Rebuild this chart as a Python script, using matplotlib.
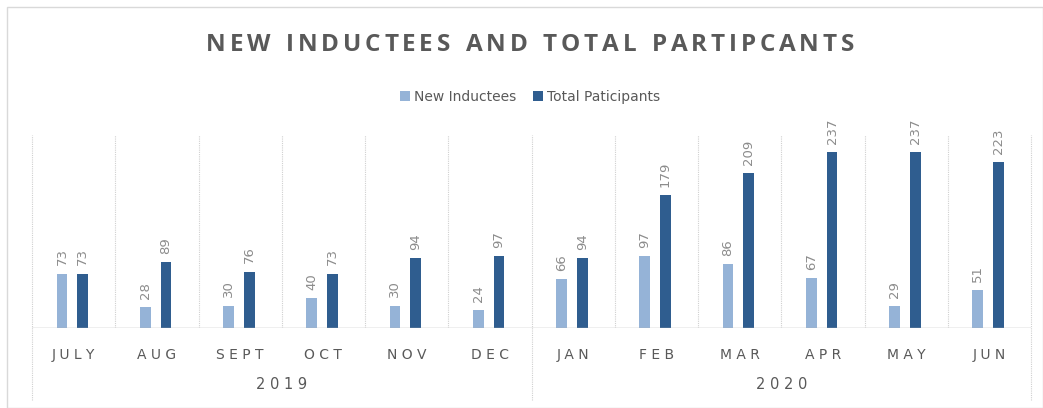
import matplotlib.pyplot as plt
from matplotlib.patches import Rectangle
import matplotlib.transforms as mtransforms

months = ['JULY', 'AUG', 'SEPT', 'OCT', 'NOV', 'DEC',
          'JAN', 'FEB', 'MAR', 'APR', 'MAY', 'JUN']
years = ['2019', '2020']
new_inductees = [73, 28, 30, 40, 30, 24, 66, 97, 86, 67, 29, 51]
total_participants = [73, 89, 76, 73, 94, 97, 94, 179, 209, 237, 237, 223]

light = '#95b3d7'
dark = '#2f5d8f'
grey_txt = '#8c8c8c'
grid_c = '#d0d0d0'

W, H = 1043, 408


def spaced(s, sep='\u2009'):
    return sep.join(s)


def tracked_text(fig, s, xc, yc, track, space_w, **kw):
    # draw text char by char with extra letter spacing (px), centred at xc, yc (px)
    r = fig.canvas.get_renderer()
    widths = []
    for ch in s:
        if ch == ' ':
            widths.append(space_w)
            continue
        t = fig.text(0, 0, ch, **kw)
        widths.append(t.get_window_extent(r).width)
        t.remove()
    total = sum(widths) + track * (len(s) - 1)
    x0 = xc - total / 2
    for ch, wpx in zip(s, widths):
        if ch != ' ':
            fig.text(x0 / W, 1 - yc / H, ch, ha='left', va='center', **kw)
        x0 += wpx + track


fig = plt.figure(figsize=(W / 100, H / 100), dpi=100)
fig.patches.append(Rectangle((7 / W, 0), 1 - 7 / W, 1 - 7 / H,
                             transform=fig.transFigure, fill=False,
                             edgecolor='#d9d9d9', lw=1))

ax = fig.add_axes([32 / W, 1 - 328 / H, (1031 - 32) / W, 193 / H])
n = len(months)
x = list(range(n))
w = 0.13
ax.bar([i - 0.14 for i in x], new_inductees, w, color=light, label='New Inductees')
ax.bar([i + 0.11 for i in x], total_participants, w, color=dark, label='Total Paticipants')

ax.set_xlim(-0.5, n - 0.5)
ax.set_ylim(0, 260)
for s in ax.spines.values():
    s.set_visible(False)
ax.set_xticks([])
ax.set_yticks([])

# baseline
ax.axhline(0, color='#b0b0b0', lw=1)

# category separators
for i in range(1, n):
    if i == 6:
        continue
    ax.axvline(i - 0.5, ymin=0, ymax=1, color=grid_c, lw=0.8, ls=(0, (1, 1)))

# year group lines, extending below the axis
trans = mtransforms.blended_transform_factory(ax.transData, ax.transAxes)
for xv in [-0.5, 5.5, n - 0.5]:
    ax.plot([xv, xv], [-0.373, 1], transform=trans, color=grid_c, lw=0.8,
            ls=(0, (1, 1)), clip_on=False)

# data labels
for i in x:
    ax.annotate(str(new_inductees[i]), (i - 0.14, new_inductees[i]),
                xytext=(0, 6), textcoords='offset points', rotation=90,
                ha='center', va='bottom', fontsize=9.5, color=grey_txt)
    ax.annotate(str(total_participants[i]), (i + 0.11, total_participants[i]),
                xytext=(0, 6), textcoords='offset points', rotation=90,
                ha='center', va='bottom', fontsize=9.5, color=grey_txt)

# month labels
for i, m in enumerate(months):
    ax.text(i, -0.14, spaced(m, ' '), transform=trans, ha='center', va='center',
            fontsize=10, color='#595959')

# year labels
for k, yr in enumerate(years):
    ax.text(k * 6 + 2.5, -0.295, spaced(yr, ' '), transform=trans, ha='center',
            va='center', fontsize=10.5, color='#595959')

# title
tracked_text(fig, 'NEW INDUCTEES AND TOTAL PARTIPCANTS', 530, 45, 3.8, 8,
             fontsize=17.5, fontweight='bold', color='#595959', family='Open Sans')

fig.legend(loc='center', bbox_to_anchor=(530 / W, 1 - 97 / H), ncol=2,
           frameon=False, fontsize=10, handlelength=0.7, handleheight=0.7,
           handletextpad=0.3, columnspacing=1.2, labelcolor='#595959')

fig.savefig('out.png', dpi=100)
